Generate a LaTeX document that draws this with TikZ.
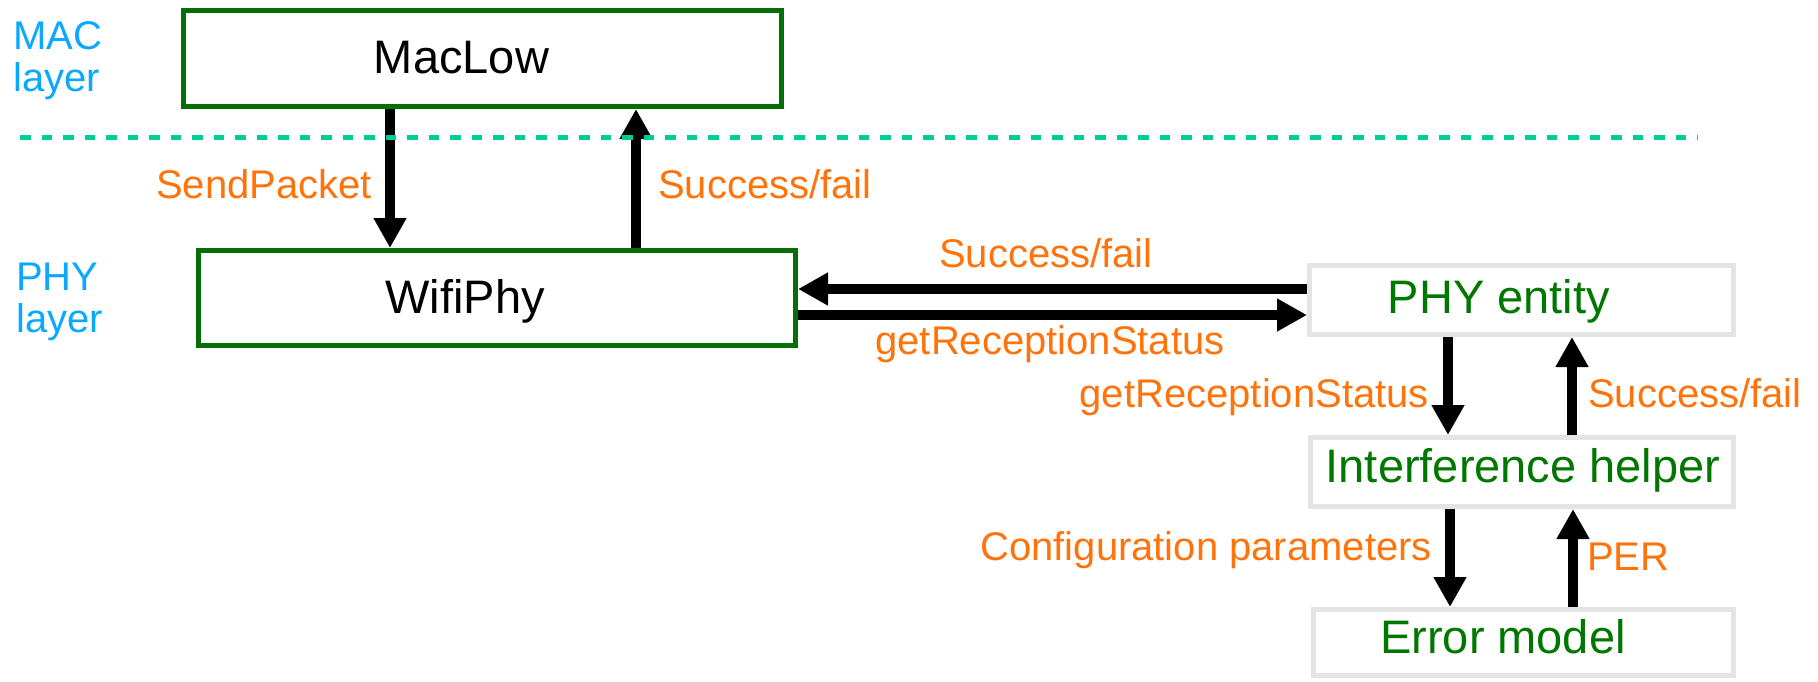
\documentclass[tikz,border=0pt]{standalone}
\usepackage{fontspec}
\setmainfont{Liberation Sans}
\usetikzlibrary{arrows.meta}

\definecolor{boxgreen}{RGB}{6,110,6}
\definecolor{textgreen}{RGB}{0,120,0}
\definecolor{lblorange}{RGB}{255,115,10}
\definecolor{layerblue}{RGB}{10,168,255}
\definecolor{boxgray}{RGB}{228,228,228}
\definecolor{divider}{RGB}{0,204,150}

\tikzset{
  greenbox/.style={draw=boxgreen, line width=5pt, fill=white, inner sep=0pt},
  graybox/.style={draw=boxgray, line width=5pt, fill=white, inner sep=0pt},
  boxtext/.style={inner sep=0pt, font=\fontsize{47}{52}\selectfont},
  darktext/.style={boxtext, text=black},
  entitytext/.style={boxtext, text=textgreen},
  msg/.style={inner sep=0pt, text=lblorange, font=\fontsize{40}{44}\selectfont},
  layertext/.style={inner sep=0pt, text=layerblue, align=left, font=\fontsize{40}{42}\selectfont},
  flow/.style={line width=9.5pt, -{Triangle[width=31pt,length=30pt]}},
  layerline/.style={draw=divider, line width=5pt, dash pattern=on 10.5pt off 11pt},
}

\begin{document}
\begin{tikzpicture}[x=1pt,y=-1pt]
\useasboundingbox (0,0) rectangle (1818,681);

% layer names (base anchor sits on the second line)
\node[layertext, anchor=base west] (maclayer) at (13,91) {MAC\\layer};
\node[layertext, anchor=base west] (phylayer) at (16,332) {PHY\\layer};

% MAC and PHY blocks
\node[greenbox, minimum width=598pt, minimum height=96pt] (maclow) at (482.5,58.5) {};
\node[darktext, anchor=base] (maclowtext) at (461.5,73) {MacLow};
\node[greenbox, minimum width=597pt, minimum height=95pt] (wifiphy) at (497,298) {};
\node[darktext, anchor=base] (wifiphytext) at (465,313) {WifiPhy};

\node[graybox, minimum width=424pt, minimum height=69pt] (phy) at (1521.5,300) {};
\node[entitytext, anchor=base] (phytext) at (1499,313) {PHY entity};
\node[graybox, minimum width=423pt, minimum height=69pt] (ifh) at (1522,472) {};
\node[entitytext, anchor=base] (ifhtext) at (1523,482) {Interference helper};
\node[graybox, minimum width=420pt, minimum height=66pt] (err) at (1523.5,642.5) {};
\node[entitytext, anchor=base] (errtext) at (1503,653) {Error model};

% MacLow <-> WifiPhy
\draw[flow] ([xshift=-92.5pt]maclow.south) -- ([xshift=-92.5pt]maclow.south |- wifiphy.north);
\draw[flow] ([xshift=153.5pt]maclow.south |- wifiphy.north) -- ([xshift=153.5pt]maclow.south);

% WifiPhy <-> PHY entity
\draw[flow] ([yshift=11pt]phy.west) -- ([yshift=11pt]phy.west -| wifiphy.east);
\draw[flow] ([yshift=-15pt]phy.west -| wifiphy.east) -- ([yshift=-15pt]phy.west);

% PHY entity <-> Interference helper
\draw[flow] ([xshift=-73.5pt]phy.south) -- ([xshift=-73.5pt]phy.south |- ifh.north);
\draw[flow] ([xshift=50.5pt]phy.south |- ifh.north) -- ([xshift=50.5pt]phy.south);

% Interference helper <-> Error model
\draw[flow] ([xshift=-72pt]ifh.south) -- ([xshift=-72pt]ifh.south |- err.north);
\draw[flow] ([xshift=51pt]ifh.south |- err.north) -- ([xshift=51pt]ifh.south);

% MAC / PHY boundary
\coordinate (divL) at (20,137);
\coordinate (divR) at (1698,137);
\draw[layerline] (divL) -- (divR);

% message labels
\node[msg, anchor=base east] (lsend) at (372,198) {SendPacket};
\node[msg, anchor=base west] (lok1) at (658,198) {Success/fail};
\node[msg, anchor=base] (lok2) at (1046,267) {Success/fail};
\node[msg, anchor=base] (lget1) at (1050,354) {getReceptionStatus};
\node[msg, anchor=base east] (lget2) at (1429,407) {getReceptionStatus};
\node[msg, anchor=base west] (lok3) at (1588,407) {Success/fail};
\node[msg, anchor=base east] (lconf) at (1432,560) {Configuration parameters};
\node[msg, anchor=base west] (lper) at (1587,570) {PER};
\end{tikzpicture}
\end{document}
